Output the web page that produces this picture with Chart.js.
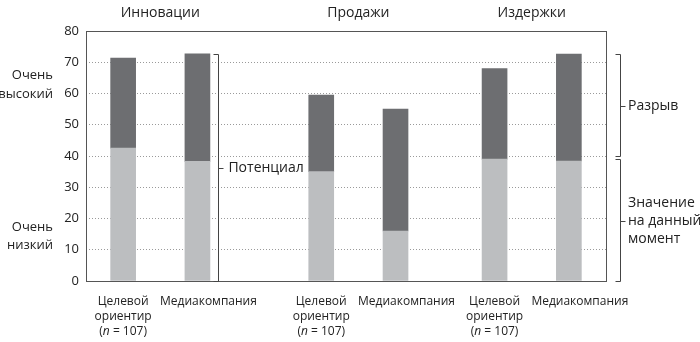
<!DOCTYPE html>
<html>
<head>
<meta charset="utf-8">
<script src="https://cdn.jsdelivr.net/npm/chart.js@4"></script>
<style>
  html, body { margin: 0; padding: 0; background: #fff; }
  #wrap { width: 700px; height: 342px; }
</style>
</head>
<body>
<div id="wrap"><canvas id="myChart"></canvas></div>
<script>
// data
const groups = ['Инновации', 'Продажи', 'Издержки'];
const barLabels = [
  ['Целевой', 'ориентир', '(n = 107)'], ['Медиакомпания'],
  ['Целевой', 'ориентир', '(n = 107)'], ['Медиакомпания'],
  ['Целевой', 'ориентир', '(n = 107)'], ['Медиакомпания']
];
const currentValues = [42.5, 38.3, 35, 16, 39, 38.4];   // значение на данный момент
const gapValues = [28.8, 34.4, 24.5, 39, 29, 34.2];     // разрыв
const yTicks = [0, 10, 20, 30, 40, 50, 60, 70, 80];
const gapBracket = [40, 72.6];
const valueBracket = [0, 39];

// bars sit on a 21-slot category axis, the rest are spacers
const slots = [1, 4, 9, 12, 16, 19];
const slotCount = 21;
const labels = [];
const cur = [];
const gap = [];
for (let i = 0; i < slotCount; i++) {
  const k = slots.indexOf(i);
  labels.push(k >= 0 ? barLabels[k] : '');
  cur.push(k >= 0 ? currentValues[k] : null);
  gap.push(k >= 0 ? gapValues[k] : null);
}

const FONT = '"Open Sans", sans-serif';

// draws a line, italic "n" inside "(n = 107)"
function drawLabelLine(ctx, text, cx, cy) {
  const m = text.match(/^\((n)( = .*)\)$/);
  if (!m) {
    ctx.textAlign = 'center';
    ctx.fillText(text, cx, cy);
    return;
  }
  const reg = '12px ' + FONT, ital = 'italic 12px ' + FONT;
  ctx.font = reg; const w1 = ctx.measureText('(').width;
  ctx.font = ital; const w2 = ctx.measureText('n').width;
  ctx.font = reg; const w3 = ctx.measureText(m[2] + ')').width;
  let px = cx - (w1 + w2 + w3) / 2;
  ctx.textAlign = 'left';
  ctx.fillText('(', px, cy); px += w1;
  ctx.font = ital; ctx.fillText('n', px, cy); px += w2;
  ctx.font = reg; ctx.fillText(m[2] + ')', px, cy);
}

const overlay = {
  id: 'overlay',
  afterDraw(chart) {
    const { ctx, chartArea: a, scales: { x, y } } = chart;
    ctx.save();
    // frame
    ctx.strokeStyle = '#555';
    ctx.lineWidth = 1;
    ctx.strokeRect(Math.round(a.left) + 0.5, Math.round(a.top) + 0.5,
      Math.round(a.width), Math.round(a.height));

    ctx.fillStyle = '#222';
    ctx.textBaseline = 'middle';

    // group titles
    ctx.font = '14px ' + FONT;
    ctx.textAlign = 'center';
    groups.forEach((g, i) => {
      const cx = (x.getPixelForValue(slots[i * 2]) + x.getPixelForValue(slots[i * 2 + 1])) / 2;
      ctx.fillText(g, cx, 13);
    });

    // bar labels under the axis
    barLabels.forEach((lines, k) => {
      const cx = x.getPixelForValue(slots[k]) + (lines.length === 1 ? 11 : 0);
      lines.forEach((t, i) => {
        ctx.font = '12px ' + FONT;
        drawLabelLine(ctx, t, cx, 302 + i * 15);
      });
    });

    // left labels
    ctx.font = '13px ' + FONT;
    ctx.textAlign = 'right';
    ctx.fillText('Очень', 53, 75);
    ctx.fillText('высокий', 53, 94);
    ctx.fillText('Очень', 53, 227);
    ctx.fillText('низкий', 53, 245);

    // brackets
    ctx.font = '14px ' + FONT;
    function bracket(bx, v0, v1, lines, tx) {
      const y0 = Math.round(y.getPixelForValue(v1)) + 0.5;
      const y1 = Math.round(y.getPixelForValue(v0)) + 0.5;
      bx = Math.round(bx) + 0.5;
      ctx.strokeStyle = '#444';
      ctx.beginPath();
      ctx.moveTo(bx - 5, y0); ctx.lineTo(bx, y0); ctx.lineTo(bx, y1); ctx.lineTo(bx - 5, y1);
      const ym = Math.round((y0 + y1) / 2) + 0.5;
      ctx.moveTo(bx, ym); ctx.lineTo(bx + 5, ym);
      ctx.stroke();
      ctx.textAlign = 'left';
      const lh = 18;
      lines.forEach((t, i) => {
        ctx.fillText(t, tx, ym + (i - (lines.length - 1) / 2) * lh);
      });
    }
    const topMedia = currentValues[1] + gapValues[1];
    bracket(x.getPixelForValue(slots[1]) + 21, 0, topMedia, ['Потенциал'], x.getPixelForValue(slots[1]) + 31);
    bracket(a.right + 14, gapBracket[0], gapBracket[1], ['Разрыв'], a.right + 22);
    bracket(a.right + 14, valueBracket[0], valueBracket[1], ['Значение', 'на данный', 'момент'], a.right + 22);
    ctx.restore();
  }
};

new Chart(document.getElementById('myChart'), {
  type: 'bar',
  data: {
    labels: labels,
    datasets: [
      { label: 'Значение на данный момент', data: cur, backgroundColor: '#bcbec0', barThickness: 25 },
      { label: 'Разрыв', data: gap, backgroundColor: '#6d6e71', barThickness: 25 }
    ]
  },
  options: {
    responsive: true,
    maintainAspectRatio: false,
    animation: false,
    layout: { padding: { top: 31, right: 94, left: 0, bottom: 0 } },
    plugins: { legend: { display: false }, tooltip: { enabled: false } },
    scales: {
      x: {
        stacked: true,
        grid: { display: false },
        border: { display: false },
        ticks: { display: false },
        afterFit: s => { s.height = 61; }
      },
      y: {
        stacked: true,
        min: 0, max: 80,
        afterBuildTicks: s => { s.ticks = yTicks.map(v => ({ value: v })); },
        grid: { color: '#9a9a9a', lineWidth: 1, drawTicks: false },
        border: { display: false, dash: [1, 2] },
        ticks: { padding: 7, color: '#222', font: { family: FONT, size: 13 } },
        afterFit: s => { s.width = 86; }
      }
    }
  },
  plugins: [overlay]
});
</script>
</body>
</html>
